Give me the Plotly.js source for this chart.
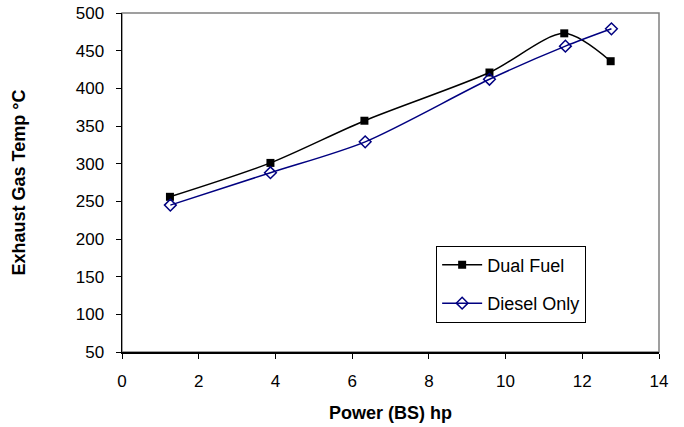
<!DOCTYPE html>
<html>
<head>
<meta charset="utf-8">
<script src="https://cdn.plot.ly/plotly-3.0.1.min.js"></script>
<style>html,body{margin:0;padding:0;background:#fff;}#chart{width:684px;height:427px;}</style>
</head>
<body>
<div id="chart"></div>
<script>
const dualPower = [1.25, 3.87, 6.32, 9.58, 11.53, 12.74];
const dualTemp = [256, 301, 357, 421, 473, 436];
const dieselPower = [1.26, 3.87, 6.34, 9.58, 11.56, 12.76];
const dieselTemp = [245, 288, 329, 412, 456, 479];

const traces = [
  {
    x: dualPower, y: dualTemp, name: 'Dual Fuel', type: 'scatter', mode: 'lines+markers',
    legendgroup: 'a',
    line: {color: '#000000', width: 1.5, shape: 'spline', smoothing: 0.8},
    marker: {symbol: 'square', size: 8, color: '#000000'}
  },
  {
    x: dieselPower, y: dieselTemp, name: 'Diesel Only', type: 'scatter', mode: 'lines+markers',
    legendgroup: 'b',
    line: {color: '#000080', width: 1.5, shape: 'spline', smoothing: 0.8},
    marker: {symbol: 'diamond-open', size: 9, color: '#000080', line: {width: 1.5, color: '#000080'}}
  }
];

const layout = {
  width: 684, height: 427,
  margin: {l: 121.5, r: 25, t: 13, b: 74.5},
  paper_bgcolor: '#ffffff', plot_bgcolor: '#ffffff',
  font: {family: 'Liberation Sans, Arial, sans-serif', size: 17, color: '#000'},
  showlegend: true,
  legend: {
    x: 0.585, y: 0.314, xanchor: 'left', yanchor: 'top',
    bgcolor: '#ffffff', bordercolor: '#000', borderwidth: 1,
    font: {size: 18}, itemwidth: 40, tracegroupgap: 12
  },
  xaxis: {
    range: [0, 14], dtick: 2, tick0: 0, showgrid: false, zeroline: false,
    showline: true, linecolor: '#000', linewidth: 1.5,
    ticks: 'outside', ticklen: 5, tickcolor: '#000',
    tickfont: {size: 17}, ticklabelstandoff: 8,
    title: {text: '<b>Power (BS) hp</b>', font: {size: 18}, standoff: 16}
  },
  yaxis: {
    range: [50, 500], dtick: 50, tick0: 50, showgrid: false, zeroline: false,
    showline: true, linecolor: '#000', linewidth: 1.5,
    ticks: 'outside', ticklen: 5, tickcolor: '#000',
    tickfont: {size: 17}, ticklabelstandoff: 8,
    title: {text: '<b>Exhaust Gas Temp °C</b>', font: {size: 18}, standoff: 45}
  },
  shapes: [{
    type: 'rect', xref: 'paper', yref: 'paper', x0: 0, x1: 1, y0: 0, y1: 1,
    line: {color: '#808080', width: 1.5}, layer: 'below'
  }]
};

Plotly.newPlot('chart', traces, layout, {displayModeBar: false, staticPlot: true});
</script>
</body>
</html>
